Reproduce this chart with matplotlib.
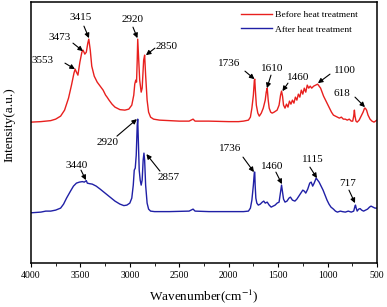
import matplotlib
matplotlib.use("Agg")
import matplotlib.pyplot as plt
from matplotlib.ticker import MultipleLocator

plt.rcParams['font.family'] = ['Liberation Serif', 'DejaVu Serif']
plt.rcParams['mathtext.fontset'] = 'stix'

# spectrum before heat treatment (wavenumber, intensity a.u.)
wn_before = [4000, 3900, 3800, 3750, 3700, 3660, 3620, 3590, 3565, 3553, 3540, 3525,
             3505, 3485, 3473, 3455, 3440, 3425, 3415, 3400, 3385, 3360, 3330, 3300,
             3270, 3245, 3230, 3210, 3180, 3150, 3100, 3050, 3010, 2980, 2960, 2950,
             2940, 2932, 2925, 2920, 2912, 2900, 2885, 2875, 2860, 2850, 2840, 2825,
             2810, 2790, 2760, 2700, 2600, 2500, 2400, 2360, 2340, 2200, 2000, 1900,
             1850, 1800, 1780, 1765, 1750, 1740, 1736, 1730, 1720, 1705, 1690, 1670,
             1650, 1630, 1620, 1610, 1600, 1590, 1575, 1560, 1540, 1510, 1490, 1475,
             1465, 1455, 1445, 1430, 1415, 1400, 1385, 1370, 1355, 1340, 1325, 1310,
             1295, 1280, 1265, 1250, 1235, 1220, 1205, 1190, 1175, 1160, 1140, 1120,
             1100, 1085, 1070, 1055, 1040, 1020, 1000, 980, 960, 940, 920, 900,
             880, 860, 840, 820, 800, 780, 760, 745, 735, 728, 722, 712,
             700, 680, 660, 640, 625, 618, 605, 590, 570, 550, 530, 515, 500]
int_before = [143, 143.5, 144.5, 146, 149, 155, 167, 180, 192, 196, 193, 190,
              203, 213, 215, 211, 213, 222, 226, 215, 199, 189, 183, 179,
              175, 170, 168, 165, 161, 158, 155.5, 155, 156, 160, 170, 181,
              185, 183, 205, 226, 210, 185, 173, 177, 205, 210, 190, 165,
              153, 148, 146, 145, 144.5, 144, 144, 146, 144, 144, 143.5, 143.5,
              144, 145, 148, 157, 170, 185, 186, 175, 160, 152, 149, 152,
              157, 165, 173, 177, 165, 157, 153, 152, 153, 155, 160, 170,
              174, 169, 160, 157, 161, 158, 164, 161, 165, 162, 168, 165,
              171, 168, 175, 171, 177, 173, 180, 177, 179, 177, 179, 180,
              181, 179, 177, 173, 169, 165, 161, 157, 153, 150, 149, 148,
              147, 148, 146, 146, 145, 146, 144, 144, 149, 155, 149, 144,
              143, 145, 149, 153, 157, 157, 155, 150, 146, 144, 143, 144, 145]

# spectrum after heat treatment
wn_after = [4000, 3900, 3850, 3800, 3750, 3700, 3670, 3640, 3600, 3570, 3540, 3510,
            3480, 3460, 3440, 3430, 3410, 3380, 3340, 3300, 3250, 3200, 3150, 3100,
            3060, 3030, 3000, 2980, 2965, 2955, 2945, 2935, 2925, 2920, 2914, 2905,
            2895, 2885, 2875, 2865, 2857, 2850, 2840, 2825, 2810, 2790, 2750, 2600,
            2400, 2360, 2340, 2200, 2000, 1850, 1800, 1780, 1765, 1750, 1740, 1736,
            1732, 1725, 1715, 1700, 1680, 1660, 1645, 1630, 1610, 1590, 1570, 1550,
            1530, 1510, 1490, 1475, 1465, 1455, 1445, 1430, 1410, 1390, 1375, 1355,
            1330, 1310, 1290, 1270, 1250, 1235, 1220, 1200, 1180, 1165, 1150, 1135,
            1115, 1100, 1085, 1065, 1045, 1025, 1005, 985, 965, 940, 920, 900,
            870, 850, 820, 790, 760, 735, 722, 717, 710, 700, 685, 670,
            655, 635, 615, 595, 575, 560, 540, 520, 500]
int_after = [52.3, 53, 54, 54, 55, 57, 61, 67, 74, 79, 82, 83,
             83.5, 83, 84.5, 82, 81.5, 81, 79, 76, 72, 68, 64, 61,
             59.5, 60, 62, 67, 80, 95, 97, 110, 140, 146, 125, 95,
             85, 80, 85, 105, 112, 105, 80, 62, 56, 54, 53.5, 53.5,
             54, 56, 54, 53.5, 53.5, 53.5, 54, 57, 65, 80, 93, 93,
             80, 67, 62, 60, 61, 63, 64, 62, 63, 60, 58, 59,
             60, 62, 63, 73, 80, 73, 66, 63, 64, 67, 68, 65,
             64, 66, 69, 72, 75, 74, 72, 76, 82, 83, 79, 82,
             87, 85, 83, 79, 75, 70, 65, 61, 58, 56, 54, 53,
             54, 53.5, 53, 54, 53, 54, 59, 60, 57, 54, 56, 56.5,
             55, 54, 55, 56, 58, 59, 58, 57, 57]

# peak labels: text position, arrow tail, arrow tip
labels_before = ['3553', '3473', '3415', '2920', '2850', '1736', '1610', '1460', '1100', '618']
text_before = [(3879, 205), (3707, 228), (3494, 248), (2968, 246), (2624, 219),
               (1997, 202), (1562, 197), (1299, 188), (824, 195), (854, 172)]
tail_before = [(3656, 202), (3575, 222), (3464, 239), (2968, 238), (2746, 217),
               (1835, 194), (1572, 190), (1400, 182), (975, 191), (722, 168)]
tip_before = [(3555, 196), (3474, 214), (3413, 227), (2923, 227), (2837, 210),
              (1739, 186), (1613, 177), (1456, 174), (1097, 182), (621, 158)]

labels_after = ['3440', '2920', '2857', '1736', '1460', '1115', '717']
text_after = [(3535, 100), (3221, 123), (2604, 88), (1987, 117), (1562, 99), (1147, 106), (793, 82)]
tail_after = [(3494, 95), (3130, 129), (2695, 94), (1855, 108), (1522, 93), (1178, 98), (783, 75)]
tip_after = [(3444, 85), (2928, 146), (2832, 111), (1744, 93), (1461, 81), (1107, 87), (722, 62)]

fig = plt.figure(figsize=(3.87, 3.07), dpi=100)
ax = fig.add_axes([0.080, 0.143, 0.894, 0.850])

ax.plot(wn_before, int_before, color='#e8201e', lw=1.0, label='Before heat treatment')
ax.plot(wn_after, int_after, color='#2020a6', lw=1.0, label='After heat treatment')

arrow = dict(arrowstyle='-|>', color='black', lw=0.8, mutation_scale=7, shrinkA=0, shrinkB=0)
for labs, txt, tail, tip in [(labels_before, text_before, tail_before, tip_before),
                             (labels_after, text_after, tail_after, tip_after)]:
    for lab, t, a, b in zip(labs, txt, tail, tip):
        ax.text(t[0], t[1], lab, fontsize=8, ha='center', va='center')
        ax.annotate('', xy=b, xytext=a, arrowprops=arrow)

ax.set_xlim(4000, 500)
ax.set_ylim(2, 263)
ax.xaxis.set_major_locator(MultipleLocator(500))
ax.xaxis.set_minor_locator(MultipleLocator(250))
ax.tick_params(axis='x', which='major', direction='out', length=3, labelsize=7, pad=3)
ax.tick_params(axis='x', which='minor', direction='out', length=2)
ax.set_yticks([])
for s in ax.spines.values():
    s.set_linewidth(1.1)

ax.set_xlabel(r'Wavenumber(cm$^{-1}$)', fontsize=9.5, labelpad=5)
ax.set_ylabel('Intensity(a.u.)', fontsize=9.5, labelpad=4)
ax.yaxis.set_label_coords(-0.045, 0.53)

ax.legend(loc='upper right', bbox_to_anchor=(0.97, 1.0), frameon=False, fontsize=6.8,
          handlelength=3.2, handletextpad=0.4, labelspacing=0.6)

fig.savefig('out.png', dpi=100)
